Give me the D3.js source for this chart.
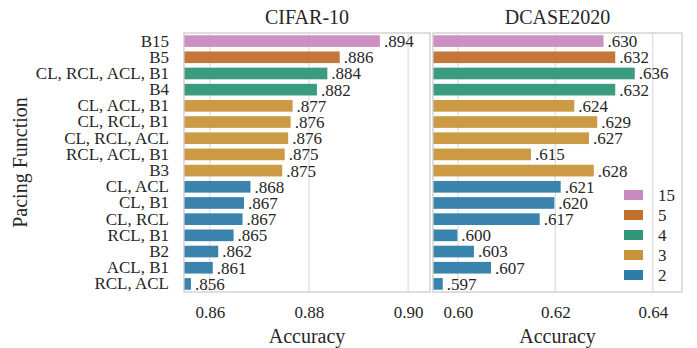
<!DOCTYPE html>
<html>
<head>
<meta charset="utf-8">
<script src="https://cdn.jsdelivr.net/npm/d3@7"></script>
<style>
body { margin: 0; background: #fff; }
text { font-family: "Liberation Serif", "Times New Roman", serif; fill: #262626; }
</style>
</head>
<body>
<div id="chart"></div>
<script>

var categories = ["B15", "B5", "CL, RCL, ACL, B1", "B4", "CL, ACL, B1", "CL, RCL, B1",
  "CL, RCL, ACL", "RCL, ACL, B1", "B3", "CL, ACL", "CL, B1", "CL, RCL", "RCL, B1",
  "B2", "ACL, B1", "RCL, ACL"];
var cifarValues = [0.8943, 0.8862, 0.8837, 0.8816, 0.8767, 0.8763, 0.8758, 0.8751,
  0.8746, 0.8682, 0.8669, 0.8666, 0.8648, 0.8617, 0.8606, 0.8562];
var dcaseValues = [0.6299, 0.6323, 0.6363, 0.6323, 0.6239, 0.6286, 0.6269, 0.6150,
  0.6279, 0.6211, 0.6198, 0.6168, 0.5999, 0.6033, 0.6068, 0.5969];
var groups = [15, 5, 4, 4, 3, 3, 3, 3, 3, 2, 2, 2, 2, 2, 2, 2];
var legendKeys = [15, 5, 4, 3, 2];
var legendColors = ["#c98bbf", "#c1702f", "#2f9677", "#c9933a", "#2e7ca8"];
var cifarTicks = [0.86, 0.88, 0.90];
var dcaseTicks = [0.60, 0.62, 0.64];
var cifarDomain = [0.8548, 0.9044];
var dcaseDomain = [0.5949, 0.6460];

var width = 697, height = 348;
var plotTop = 33, plotBottom = 292;

var color = d3.scaleOrdinal().domain(legendKeys).range(legendColors);
var fmt = function(v) { return d3.format(".3f")(v).replace(/^0/, ""); };

var svg = d3.select("#chart").append("svg")
  .attr("width", width)
  .attr("height", height);

var y = d3.scaleBand()
  .domain(categories)
  .range([plotTop, plotBottom])
  .paddingInner(0.28)
  .paddingOuter(0.14);

var panels = [
  { title: "CIFAR-10", values: cifarValues, ticks: cifarTicks, domain: cifarDomain, x0: 184, x1: 430 },
  { title: "DCASE2020", values: dcaseValues, ticks: dcaseTicks, domain: dcaseDomain, x0: 433, x1: 682 }
];

panels.forEach(function(p, pi) {
  var x = d3.scaleLinear().domain(p.domain).range([p.x0, p.x1]);
  var g = svg.append("g");

  // grid
  g.selectAll(".grid")
    .data(p.ticks)
    .enter().append("line")
    .attr("x1", function(d) { return x(d); })
    .attr("x2", function(d) { return x(d); })
    .attr("y1", plotTop)
    .attr("y2", plotBottom)
    .attr("stroke", "#dcdcdc")
    .attr("stroke-width", 1.2);

  // bars
  g.selectAll(".bar")
    .data(p.values)
    .enter().append("rect")
    .attr("x", p.x0)
    .attr("y", function(d, i) { return y(categories[i]); })
    .attr("width", function(d) { return x(d) - p.x0; })
    .attr("height", y.bandwidth())
    .attr("fill", function(d, i) { return color(groups[i]); })
    .attr("fill-opacity", 0.95);

  // value labels
  g.selectAll(".val")
    .data(p.values)
    .enter().append("text")
    .attr("x", function(d) { return x(d) + 4; })
    .attr("y", function(d, i) { return y(categories[i]) + y.bandwidth() / 2; })
    .attr("dy", "0.35em")
    .attr("font-size", "17px")
    .text(function(d) { return fmt(d); });

  // frame
  g.append("rect")
    .attr("x", p.x0)
    .attr("y", plotTop)
    .attr("width", p.x1 - p.x0)
    .attr("height", plotBottom - plotTop)
    .attr("fill", "none")
    .attr("stroke", "#cccccc")
    .attr("stroke-width", 1.3);

  // x axis
  var xAxis = d3.axisBottom(x)
    .tickValues(p.ticks)
    .tickFormat(d3.format(".2f"))
    .tickSize(0)
    .tickPadding(14);
  var ax = g.append("g")
    .attr("transform", "translate(0," + plotBottom + ")")
    .call(xAxis);
  ax.select(".domain").remove();
  ax.selectAll("text")
    .attr("font-size", "17px")
    .attr("fill", null);

  g.append("text")
    .attr("x", (p.x0 + p.x1) / 2)
    .attr("y", 343)
    .attr("text-anchor", "middle")
    .attr("font-size", "20px")
    .text("Accuracy");

  g.append("text")
    .attr("x", (p.x0 + p.x1) / 2)
    .attr("y", 24)
    .attr("text-anchor", "middle")
    .attr("font-size", "20px")
    .text(p.title);

  if (pi == 0) {
    var yAxis = d3.axisLeft(y).tickSize(0).tickPadding(15);
    var ay = g.append("g")
      .attr("transform", "translate(" + p.x0 + ",0)")
      .call(yAxis);
    ay.select(".domain").remove();
    ay.selectAll("text")
      .attr("font-size", "17px")
      .attr("fill", null);

    g.append("text")
      .attr("transform", "rotate(-90)")
      .attr("x", -(plotTop + plotBottom) / 2)
      .attr("y", 20)
      .attr("dy", "0.35em")
      .attr("text-anchor", "middle")
      .attr("font-size", "20px")
      .text("Pacing Function");
  }
});

// legend
var legend = svg.selectAll(".legend")
  .data(legendKeys)
  .enter().append("g")
  .attr("transform", function(d, i) { return "translate(624," + (195 + i * 20) + ")"; });

legend.append("rect")
  .attr("x", 0)
  .attr("y", -5)
  .attr("width", 19)
  .attr("height", 10)
  .attr("fill", function(d) { return color(d); });

legend.append("text")
  .attr("x", 34)
  .attr("y", 0)
  .attr("dy", "0.35em")
  .attr("font-size", "17px")
  .text(function(d) { return d; });

</script>
</body>
</html>
